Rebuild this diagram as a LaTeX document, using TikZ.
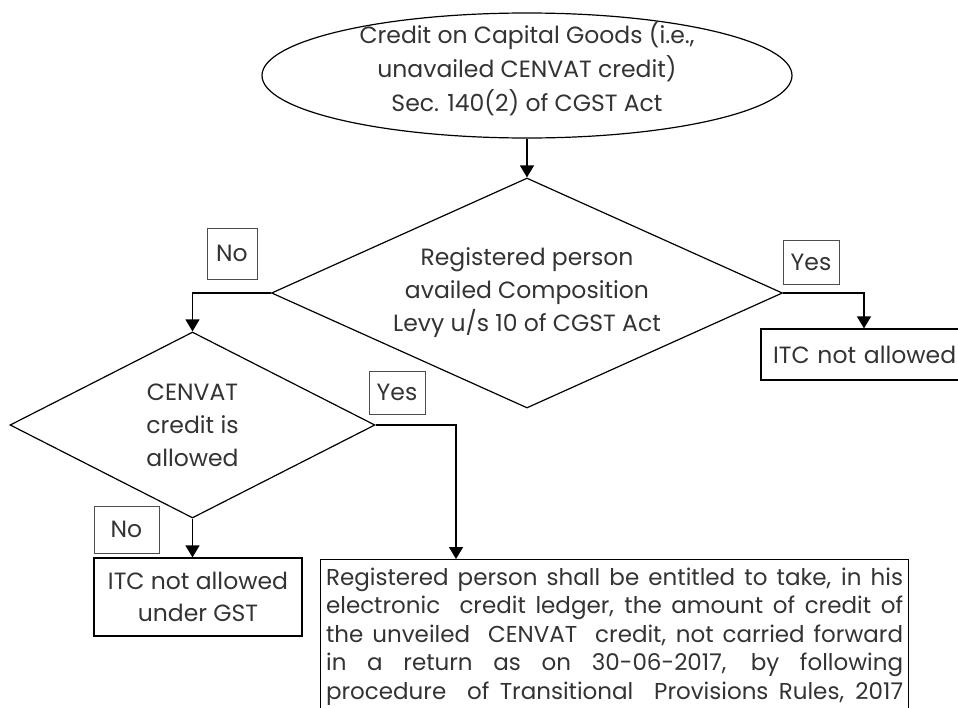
\documentclass[tikz,border=0pt]{standalone}
\usepackage{fontspec}
\setmainfont{Poppins}
\usetikzlibrary{shapes.geometric,arrows.meta}

\tikzset{
  flow/.style={line width=1.5pt,-{Triangle[length=12pt,width=14pt]}},
  decision/.style={diamond,draw,line width=1.2pt,inner sep=0pt,align=center,text=black!80},
  outbox/.style={rectangle,draw,line width=1.2pt,inner sep=0pt,text=black!80},
  tag/.style={rectangle,draw=black!70,line width=0.9pt,inner sep=0pt,text=black!80},
}
\newcommand{\fillline}[1]{\makebox[577pt][s]{\spaceskip=0.27em plus 1fil\relax #1}}

\begin{document}
\begin{tikzpicture}[x=1pt,y=-1pt,font=\fontsize{23.5}{33}\selectfont]
  \useasboundingbox (0,0) rectangle (958,707);
  \clip (0,0) rectangle (958,707);
  % start
  \node[ellipse,draw,line width=1.2pt,inner sep=0pt,minimum width=530pt,minimum height=125pt] (start) at (527,75.5) {};
  \node[align=center,text=black!80,font=\fontsize{23.5}{34}\selectfont] (starttext) at (527,69) {Credit on Capital Goods (i.e.,\\unavailed CENVAT credit)\\Sec. 140(2) of CGST Act};
  % decisions
  \node[decision,aspect=2.2,minimum width=511pt,minimum height=230pt] (q1) at (527,293) {Registered person\\availed Composition\\Levy u/s 10 of CGST Act};
  \node[decision,aspect=2,minimum width=365pt,minimum height=186pt] (q2) at (192.5,425) {CENVAT\\credit is\\allowed};
  % outcomes
  \node[outbox,minimum width=206pt,minimum height=51pt,text width=182pt,inner xsep=12pt,align=left] (itc1) at (864,354.5) {\mbox{ITC not allowed}};
  \node[outbox,minimum width=208pt,minimum height=78pt,align=center,font=\fontsize{23.5}{32}\selectfont] (itc2) at (198,597) {ITC not allowed\\under GST};
  \node[outbox,anchor=north west,text width=577pt,inner xsep=5.5pt,inner ysep=8pt,
        font=\fontsize{23}{28.5}\selectfont] (rule) at (320,559)
       {\fillline{Registered person shall be entitled to take, in his}\\
        \fillline{electronic\ \ credit ledger, the amount of credit of}\\
        \fillline{the unveiled\ \ CENVAT\ \ credit, not carried forward}\\
        \fillline{in a return as on 30-06-2017, by following}\\
        \fillline{procedure\ \ of Transitional\ \ Provisions Rules, 2017}};
  % labels
  \node[tag,minimum width=50pt,minimum height=51pt] (no1) at (232,253.5) {No};
  \node[tag,minimum width=56pt,minimum height=44pt] (yes1) at (811,262) {Yes};
  \node[tag,minimum width=56pt,minimum height=43pt] (yes2) at (397,392.5) {Yes};
  \node[tag,minimum width=65pt,minimum height=47pt] (no2) at (126.5,529.5) {No};
  \coordinate (ruletop) at (456,559);
  % connectors
  \draw[flow] (start.south) -- (q1.north);
  \draw[flow] (q1.west) -| (q2.north);
  \draw[flow] (q1.east) -| (itc1.north);
  \draw[flow] (q2.south) -- (q2.south |- itc2.north);
  \draw[flow] (q2.east) -| (ruletop);
\end{tikzpicture}
\end{document}
